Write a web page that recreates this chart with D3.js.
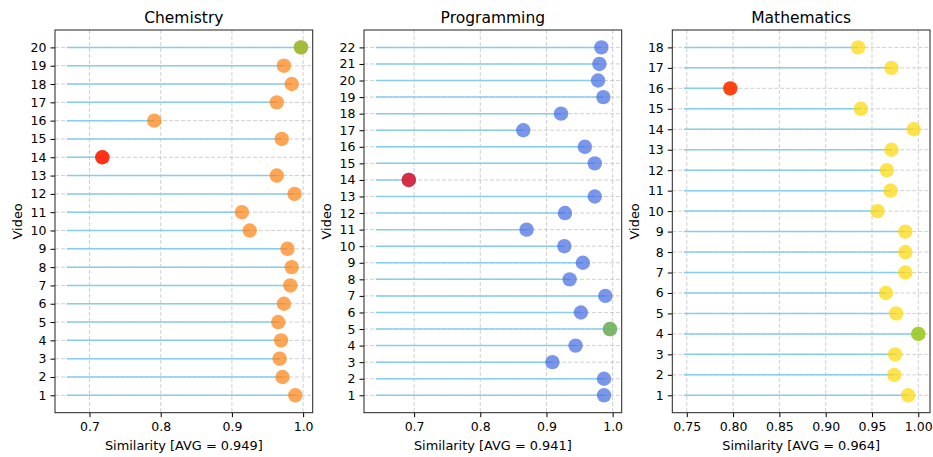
<!DOCTYPE html>
<html><head><meta charset="utf-8">
<script src="https://cdn.jsdelivr.net/npm/d3@7"></script>
<style>body{margin:0;background:#fff}svg{display:block}text{font-family:"DejaVu Sans",sans-serif;fill:#000}</style>
</head><body>
<svg id="c" width="933" height="457"></svg>
<script>
const titles = ["Chemistry", "Programming", "Mathematics"];
const chemistry = [0.989,0.971,0.967,0.969,0.965,0.973,0.982,0.984,0.978,0.925,0.914,0.988,0.963,0.718,0.970,0.791,0.963,0.984,0.973,0.997];
const programming = [0.987,0.987,0.909,0.944,0.996,0.952,0.989,0.935,0.955,0.927,0.870,0.928,0.973,0.692,0.973,0.958,0.865,0.922,0.986,0.978,0.980,0.983];
const mathematics = [0.989,0.974,0.975,1.000,0.976,0.965,0.986,0.986,0.986,0.956,0.970,0.966,0.971,0.995,0.938,0.797,0.971,0.935];
const averages = ["0.949", "0.941", "0.964"];
const xTicks = [[0.7,0.8,0.9,1.0],[0.7,0.8,0.9,1.0],[0.75,0.80,0.85,0.90,0.95,1.00]];
const tickFormats = [".1f", ".1f", ".2f"];
const baseColors = ["#ff7f0e", "#4169e1", "#ffd700"];
const series = [chemistry, programming, mathematics];

const svg = d3.select("#c");
const lefts = [55, 364, 672.3];
const W = 257.7, T = 30, B = 412.7;

series.forEach((vals, k) => {
  const n = vals.length;
  const data = vals.map((v, i) => ({id: i + 1, v}));
  const minV = d3.min(vals), maxV = d3.max(vals);
  const lineStart = minV - 0.05;
  const span = maxV - lineStart;
  const x = d3.scaleLinear().domain([lineStart - 0.05 * span, maxV + 0.05 * span]).range([lefts[k], lefts[k] + W]);
  const ym = (n - 1) * 0.05;
  const y = d3.scaleLinear().domain([1 - ym, n + ym]).range([B, T]);
  const g = svg.append("g");
  const yt = d3.range(1, n + 1);

  g.selectAll(".gx").data(xTicks[k]).join("line")
    .attr("x1", d => x(d)).attr("x2", d => x(d)).attr("y1", T).attr("y2", B)
    .attr("stroke", "#b0b0b0").attr("stroke-opacity", 0.6).attr("stroke-width", 1).attr("stroke-dasharray", "4,2");
  g.selectAll(".gy").data(yt).join("line")
    .attr("x1", lefts[k]).attr("x2", lefts[k] + W).attr("y1", d => y(d)).attr("y2", d => y(d))
    .attr("stroke", "#b0b0b0").attr("stroke-opacity", 0.6).attr("stroke-width", 1).attr("stroke-dasharray", "4,2");

  g.selectAll(".st").data(data).join("line")
    .attr("x1", x(lineStart)).attr("x2", d => x(d.v)).attr("y1", d => y(d.id)).attr("y2", d => y(d.id))
    .attr("stroke", "#87ceeb").attr("stroke-width", 1.5);

  g.selectAll(".dt").data(data).join("circle")
    .attr("cx", d => x(d.v)).attr("cy", d => y(d.id)).attr("r", 7.2)
    .attr("fill", baseColors[k]).attr("fill-opacity", 0.7);
  const hi = [{d: data.find(d => d.v === maxV), c: "#7dc631"}, {d: data.find(d => d.v === minV), c: "#ff0000"}];
  g.selectAll(".hl").data(hi).join("circle")
    .attr("cx", h => x(h.d.v)).attr("cy", h => y(h.d.id)).attr("r", 7.2)
    .attr("fill", h => h.c).attr("fill-opacity", 0.7);

  const ax = g.append("g").attr("transform", `translate(0,${B})`)
    .call(d3.axisBottom(x).tickValues(xTicks[k]).tickFormat(d3.format(tickFormats[k])).tickSize(4.5).tickPadding(4));
  const ay = g.append("g").attr("transform", `translate(${lefts[k]},0)`)
    .call(d3.axisLeft(y).tickValues(yt).tickFormat(d3.format("d")).tickSize(4.5).tickPadding(4));
  [ax, ay].forEach(a => {
    a.select(".domain").remove();
    a.selectAll("text").attr("font-size", 12.5).attr("font-family", "DejaVu Sans").attr("fill", "#000");
    a.selectAll("line").attr("stroke", "#000").attr("stroke-width", 1);
  });
  ax.selectAll("text").attr("dy", "0.8em");

  g.append("rect").attr("x", lefts[k]).attr("y", T).attr("width", W).attr("height", B - T)
    .attr("fill", "none").attr("stroke", "#222").attr("stroke-width", 1);

  g.append("text").attr("x", lefts[k] + W / 2).attr("y", 23).attr("text-anchor", "middle")
    .attr("font-size", 15.5).text(titles[k]);
  g.append("text").attr("x", lefts[k] + W / 2).attr("y", 450).attr("text-anchor", "middle")
    .attr("font-size", 12.9).text(`Similarity [AVG = ${averages[k]}]`);
  g.append("text").attr("transform", `translate(${lefts[k] - 33},${(T + B) / 2}) rotate(-90)`)
    .attr("text-anchor", "middle").attr("font-size", 12.9).text("Video");
});
</script>
</body></html>
